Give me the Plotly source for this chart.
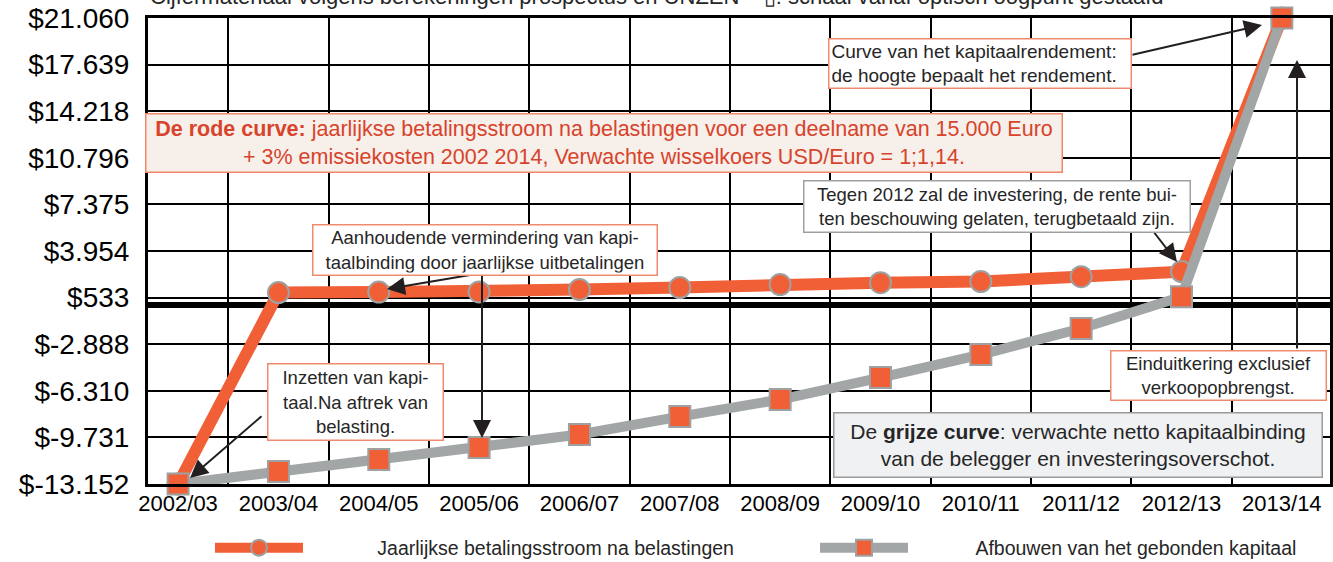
import plotly.graph_objects as go

# ---------------- data ----------------
categories = ["2002/03", "2003/04", "2004/05", "2005/06", "2006/07", "2007/08",
              "2008/09", "2009/10", "2010/11", "2011/12", "2012/13", "2013/14"]
red_values = [-13152, 900, 940, 950, 1120, 1270, 1490, 1630, 1710, 2070, 2440, 21060]
gray_values = [-13152, -12240, -11360, -10480, -9520, -8200, -6950, -5340, -3650, -1740, 600, 21060]
y_tick_values = [-13152, -9731, -6310, -2888, 533, 3954, 7375, 10796, 14218, 17639, 21060]
y_tick_labels = ["$-13.152", "$-9.731", "$-6.310", "$-2.888", "$533", "$3.954", "$7.375",
                 "$10.796", "$14.218", "$17.639", "$21.060"]
red_name = "Jaarlijkse betalingsstroom na belastingen"
gray_name = "Afbouwen van het gebonden kapitaal"

# ---------------- layout geometry ----------------
W, H = 1333, 562
ML, MR, MT, MB = 148, 3, 18, 78
XR = [-0.3, 11.48]
YR = [-13152, 21060]
X0, X1 = ML, W - MR
Y0, Y1 = MT, H - MB

def dx(px):
    return XR[0] + (px - X0) / (X1 - X0) * (XR[1] - XR[0])

def dy(py):
    return YR[1] - (py - Y0) / (Y1 - Y0) * (YR[1] - YR[0])

def px_paper(px):
    return (px - X0) / (X1 - X0)

def py_paper(py):
    return (Y1 - py) / (Y1 - Y0)

ORANGE = "#F15F36"
GRAY = "#A3A6A7"
MK_EDGE = "#9EA1A2"
FONT = "Liberation Sans, Arial, sans-serif"
TXT = "#262626"

xs = list(range(len(categories)))

fig = go.Figure()
fig.add_trace(go.Scatter(
    x=xs, y=red_values, name="\u2003" * 3 + "\u00a0\u00a0" + red_name, mode="lines+markers",
    line=dict(color=ORANGE, width=12),
    marker=dict(symbol="circle", size=21, color=ORANGE, line=dict(color=MK_EDGE, width=2)),
    cliponaxis=False, legend="legend",
))
fig.add_trace(go.Scatter(
    x=xs, y=gray_values, name="\u2003" * 3 + "\u2009" + gray_name, mode="lines+markers",
    line=dict(color=GRAY, width=10),
    marker=dict(symbol="square", size=21, color=ORANGE, line=dict(color=MK_EDGE, width=2)),
    cliponaxis=False, legend="legend2",
))

annotations = []

def box(cx, cy, w, h, text, bg, border, color=TXT, size=16, align="center"):
    annotations.append(dict(
        xref="x", yref="y", x=dx(cx), y=dy(cy), xanchor="center", yanchor="middle",
        text=text, showarrow=False, align=align, valign="middle",
        width=w - 6, height=h - 6, borderpad=2,
        bgcolor=bg, bordercolor=border, borderwidth=1.5,
        font=dict(family=FONT, size=size, color=color),
    ))

def arrow(tx, ty, hx, hy):
    annotations.append(dict(
        xref="x", yref="y", axref="x", ayref="y",
        x=dx(hx), y=dy(hy), ax=dx(tx), ay=dy(ty),
        text="", showarrow=True, arrowhead=2, arrowsize=1.8, arrowwidth=2,
        arrowcolor="#231F20", standoff=0, startstandoff=0,
    ))

# arrows first
arrow(1131, 55, 1262, 25)
arrow(1297, 350, 1297, 60)
arrow(1153, 231, 1177, 262)
arrow(482, 273, 387, 289)
arrow(482, 273, 482, 438)
arrow(263, 415, 190, 478)

box(603.5, 142.5, 917, 59,
    "<b>De rode curve:</b> jaarlijkse betalingsstroom na belastingen voor een deelname van 15.000 Euro"
    "<br>+ 3% emissiekosten 2002 2014, Verwachte wisselkoers USD/Euro = 1;1,14.",
    "#F6EFEA", "#F0876A", color="#D8432B", size=21.5)
box(979.5, 63, 303, 50, "Curve van het kapitaalrendement:<br>de hoogte bepaalt het rendement.",
    "white", "#F08A6C", size=19, align="left")
box(996.5, 206, 387, 52, "Tegen 2012 zal de investering, de rente bui-<br>ten beschouwing gelaten, terugbetaald zijn.",
    "white", "#A0A0A0", size=18.5)
box(484.5, 249.5, 345, 51, "Aanhoudende vermindering van kapi-<br>taalbinding door jaarlijkse uitbetalingen",
    "white", "#F08A6C", size=18.5)
box(355, 401.5, 176, 77, "Inzetten van kapi-<br>taal.Na aftrek van<br>belasting.",
    "white", "#F08A6C", size=18.5)
box(1218, 375, 216, 50, "Einduitkering exclusief<br>verkoopopbrengst.",
    "white", "#F08A6C", size=18.5)
box(1077.5, 444.5, 489, 65, "De <b>grijze curve</b>: verwachte netto kapitaalbinding<br>van de belegger en investeringsoverschot.",
    "#F0F1F3", "#9A9A9A", size=21)

# cut-off title at the very top
annotations.append(dict(
    xref="paper", yref="paper", x=0.0, y=py_paper(11), xanchor="left", yanchor="bottom",
    text="Cijfermateriaal volgens berekeningen prospectus en UNZEN – \u25af: schaal vanaf optisch oogpunt gestaafd",
    showarrow=False, font=dict(family=FONT, size=22, color=TXT),
))

legend_common = dict(
    orientation="h", xanchor="left", yanchor="middle", y=py_paper(548),
    font=dict(family=FONT, size=19.5, color=TXT),
    itemwidth=88, bgcolor="rgba(0,0,0,0)",
)

fig.update_layout(
    width=W, height=H,
    margin=dict(l=ML, r=MR, t=MT, b=MB, pad=0, autoexpand=False),
    paper_bgcolor="white", plot_bgcolor="white",
    font=dict(family=FONT, color="black"),
    annotations=annotations,
    showlegend=True,
    legend=dict(x=px_paper(210), **legend_common),
    legend2=dict(x=px_paper(815), **legend_common),
    xaxis=dict(
        range=XR, tickmode="array", tickvals=xs, ticktext=categories,
        showgrid=False, zeroline=False, automargin=False,
        minor=dict(tickmode="array", tickvals=[i + 0.5 for i in range(11)],
                   showgrid=True, gridcolor="black", gridwidth=2, ticks=""),
        showline=True, linecolor="black", linewidth=3, mirror=True,
        ticks="", ticklabelstandoff=-2,
        tickfont=dict(family=FONT, size=22, color="black"),
    ),
    yaxis=dict(
        range=YR, tickmode="array", tickvals=y_tick_values, ticktext=y_tick_labels,
        showgrid=True, gridcolor="black", gridwidth=2, automargin=False,
        zeroline=True, zerolinecolor="black", zerolinewidth=6,
        showline=True, linecolor="black", linewidth=3, mirror=True,
        ticks="", ticklabelstandoff=10,
        tickfont=dict(family=FONT, size=28, color="black"),
    ),
)

fig.write_html("out.html", config={"displayModeBar": False},
               post_script="document.body.style.margin='0px';document.body.style.padding='0px';")
